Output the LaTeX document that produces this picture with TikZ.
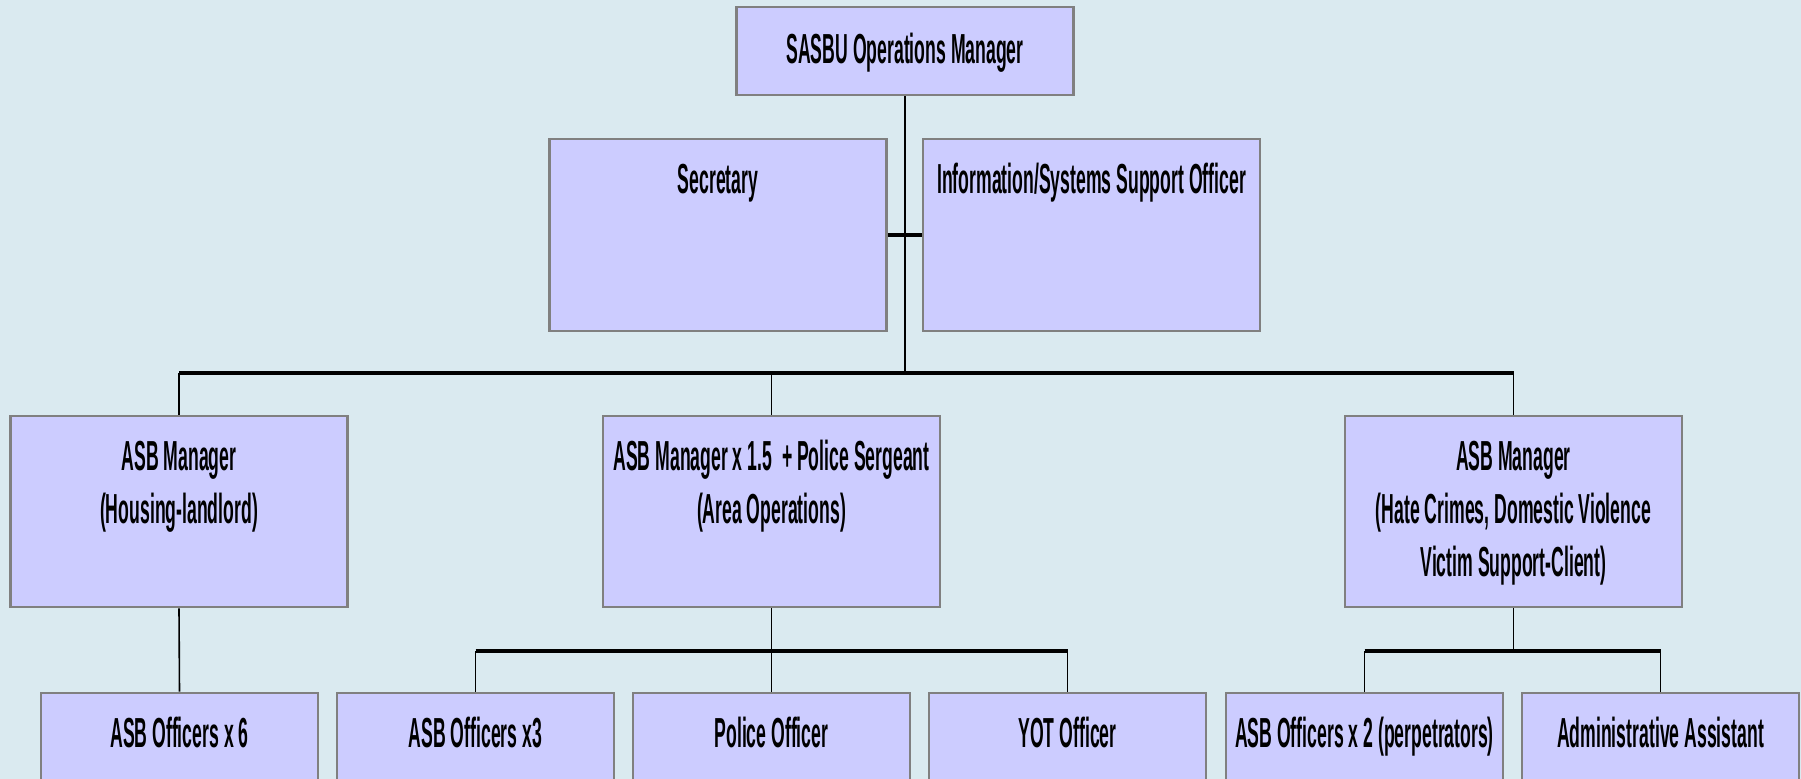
\documentclass[tikz,border=0pt]{standalone}
\usepackage{fontspec}
\usepackage{tikz}
\usetikzlibrary{positioning}
\newfontfamily\orgfont[FakeStretch=0.42]{Liberation Sans}
\newcommand{\boxlines}[1]{\begin{tabular}[t]{@{}c@{}}#1\end{tabular}}
\definecolor{bgblue}{RGB}{218,234,240}
\definecolor{boxfill}{RGB}{204,204,255}
\definecolor{boxline}{RGB}{128,128,128}

\begin{document}
\begin{tikzpicture}[x=0.5pt,y=-0.5pt,
  orgbox/.style={draw=boxline, line width=1.4pt, fill=boxfill, inner sep=0pt},
  bigbox/.style={orgbox, minimum width=168.5pt, minimum height=96pt},
  smallbox/.style={orgbox, minimum width=138.5pt, minimum height=44pt},
  boxtext/.style={font=\orgfont\bfseries\fontsize{21}{26.5}\selectfont,
    anchor=base, inner sep=0pt},
  link/.style={line width=0.8pt},
  bar/.style={line width=1.8pt}]
\useasboundingbox (0,0) rectangle (1801,779);
\clip (0,0) rectangle (1801,779);
\fill[bgblue] (0,0) rectangle (1801,779);

% top
\node[orgbox, minimum width=168.5pt, minimum height=44pt] (ops) at (905,51) {};
\node[boxtext] (opsT) at ([yshift=-29pt]ops.north) {SASBU Operations Manager};

% support staff
\node[bigbox] (sec) at (718,235) {};
\node[bigbox] (info) at (1091.5,235) {};
\node[boxtext] (secT) at ([yshift=-28pt]sec.north) {Secretary};
\node[boxtext] (infoT) at ([yshift=-28pt]info.north) {Information/Systems Support Officer};

% managers
\node[bigbox, minimum height=95.5pt] (hsg) at (179,511.5) {};
\node[bigbox, minimum height=95.5pt] (area) at (771.5,511.5) {};
\node[bigbox, minimum height=95.5pt] (hate) at (1513.5,511.5) {};
\node[boxtext] (hsgT) at ([yshift=-28pt]hsg.north) {\boxlines{ASB Manager\\(Housing-landlord)}};
\node[boxtext] (areaT) at ([yshift=-28pt]area.north) {\boxlines{ASB Manager x 1.5~ + Police Sergeant\\(Area Operations)}};
\node[boxtext] (hateT) at ([yshift=-28pt]hate.north) {\boxlines{ASB Manager\\(Hate Crimes, Domestic Violence\\Victim Support-Client)}};

% officers
\node[smallbox] (off6) at (179.5,737) {};
\node[smallbox] (off3) at (475.5,737) {};
\node[smallbox] (pol) at (771.5,737) {};
\node[smallbox] (yot) at (1067.5,737) {};
\node[smallbox] (off2) at (1364.5,737) {};
\node[smallbox] (admin) at (1660.5,737) {};
\node[boxtext] (off6T) at ([yshift=-28pt]off6.north) {ASB Officers x 6};
\node[boxtext] (off3T) at ([yshift=-28pt]off3.north) {ASB Officers x3};
\node[boxtext] (polT) at ([yshift=-28pt]pol.north) {Police Officer};
\node[boxtext] (yotT) at ([yshift=-28pt]yot.north) {YOT Officer};
\node[boxtext] (off2T) at ([yshift=-28pt]off2.north) {ASB Officers x 2 (perpetrators)};
\node[boxtext] (adminT) at ([yshift=-28pt]admin.north) {Administrative Assistant};

% connectors
\coordinate (split) at (905,373);
\coordinate (join) at (771.5,651);
\draw[link] (ops.south) -- (split);
\draw[bar] (sec.east) -- (info.west);
\draw[bar] (hsg.north |- split) -- (hate.north |- split);
\draw[link] (hsg.north |- split) -- (hsg.north);
\draw[link] (area.north |- split) -- (area.north);
\draw[link] (hate.north |- split) -- (hate.north);

\draw[link] (hsg.south) -- (off6.north);

\draw[link] (area.south) -- (join);
\draw[bar] (off3.north |- join) -- (yot.north |- join);
\draw[link] (off3.north |- join) -- (off3.north);
\draw[link] (pol.north |- join) -- (pol.north);
\draw[link] (yot.north |- join) -- (yot.north);

\draw[link] (hate.south) -- (hate.south |- join);
\draw[bar] (off2.north |- join) -- (admin.north |- join);
\draw[link] (off2.north |- join) -- (off2.north);
\draw[link] (admin.north |- join) -- (admin.north);
\end{tikzpicture}
\end{document}
